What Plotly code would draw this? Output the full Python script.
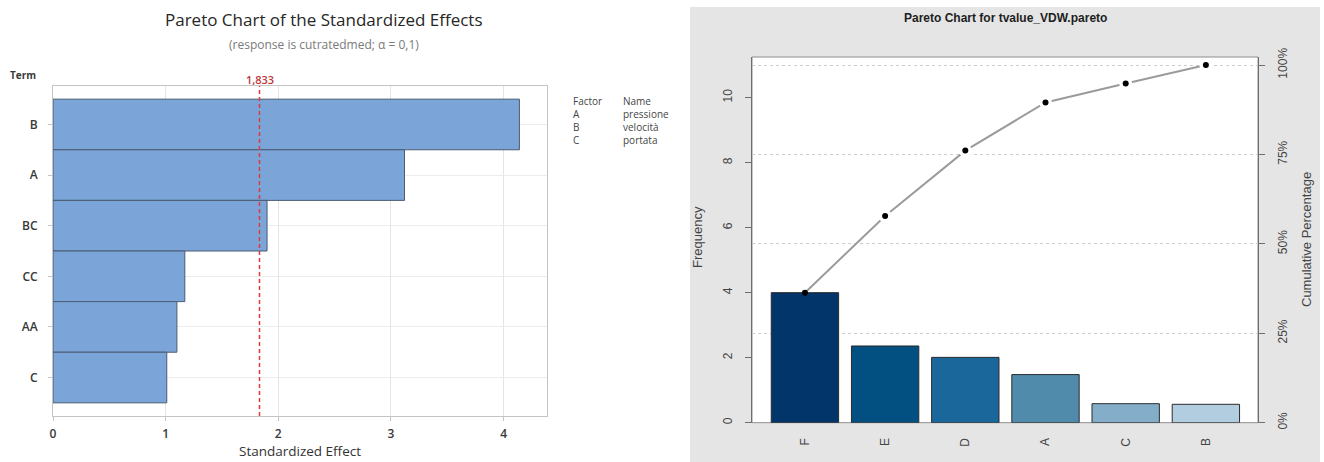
import numpy as np
import plotly.graph_objects as go

# ---- Minitab-style Pareto of standardized effects ----
terms = ["B", "A", "BC", "CC", "AA", "C"]
std_effects = [4.14, 3.12, 1.90, 1.17, 1.10, 1.01]
ref_value = 1.833
factor_codes = ["A", "B", "C"]
factor_names = ["pressione", "velocità", "portata"]

# ---- qcc-style Pareto chart of t-values ----
pareto_cats = ["F", "E", "D", "A", "C", "B"]
pareto_freq = [4.00, 2.36, 2.01, 1.48, 0.585, 0.566]
pareto_colors = ["#02356a", "#024f82", "#1a679b", "#508bac", "#84adca", "#b3cde0"]
freq_ticks = [0, 2, 4, 6, 8, 10]
pct_ticks = [0, 25, 50, 75, 100]

W, H = 1324, 462


def px(x):
    return x / W


def py(y):
    return 1 - y / H


total = float(np.sum(pareto_freq))
cum_pct = np.cumsum(pareto_freq) / total * 100
freq_top = 11.25
pct_top = freq_top / total * 100

fig = go.Figure()

# left chart: horizontal bars
fig.add_trace(go.Bar(
    x=std_effects, y=terms, orientation="h", width=1.0,
    marker=dict(color="#7ba5d8", line=dict(color="#4a5b72", width=1)),
    xaxis="x", yaxis="y", showlegend=False,
))

# right chart: frequency bars
fig.add_trace(go.Bar(
    x=pareto_cats, y=pareto_freq, width=0.84,
    marker=dict(color=pareto_colors, line=dict(color="#2b2b2b", width=1)),
    xaxis="x2", yaxis="y2", showlegend=False,
))

# cumulative percentage curve (white halo around points leaves the gaps of type="b")
halo = ["rgba(0,0,0,0)"] + ["#ffffff"] * (len(pareto_cats) - 1)
fig.add_trace(go.Scatter(
    x=pareto_cats, y=cum_pct, mode="lines+markers",
    line=dict(color="#9b9b9b", width=2),
    marker=dict(color=halo, size=13, line=dict(width=0)),
    xaxis="x2", yaxis="y3", showlegend=False,
))
fig.add_trace(go.Scatter(
    x=pareto_cats, y=cum_pct, mode="markers",
    marker=dict(color="#000000", size=6),
    xaxis="x2", yaxis="y3", showlegend=False,
))

left_font = "Open Sans"
right_font = "Liberation Sans"
left_tick_font = dict(family=left_font, size=12, color="#383838", weight=600)
right_tick_font = dict(family=right_font, size=12, color="#444444")

fig.update_layout(
    width=W, height=H,
    margin=dict(l=0, r=0, t=0, b=0, autoexpand=False),
    paper_bgcolor="#ffffff",
    plot_bgcolor="rgba(0,0,0,0)",
    xaxis=dict(
        domain=[px(53), px(547)], anchor="y",
        range=[0, 4.385], tickvals=[0, 1, 2, 3, 4],
        showgrid=True, gridcolor="#e4e4e4", gridwidth=1,
        zeroline=False,
        showline=True, mirror=True, linecolor="#c4c4c4", linewidth=1,
        ticks="outside", ticklen=4, tickcolor="#c4c4c4",
        ticklabelstandoff=3,
        tickfont=left_tick_font,
    ),
    yaxis=dict(
        domain=[py(416), py(86)], anchor="x",
        type="category", range=[5.76, -0.76],
        showgrid=True, gridcolor="#ececec", gridwidth=1,
        zeroline=False,
        showline=True, mirror=True, linecolor="#c4c4c4", linewidth=1,
        ticks="outside", ticklen=4, tickcolor="#c4c4c4",
        ticklabelstandoff=8,
        tickfont=left_tick_font,
    ),
    xaxis2=dict(
        domain=[px(752), px(1258)], anchor="y2",
        type="category", range=[-0.66, 5.65],
        showgrid=False, zeroline=False, showline=False,
        ticks="", tickangle=-90, ticklabelstandoff=12,
        tickfont=right_tick_font,
    ),
    yaxis2=dict(
        domain=[py(422.7), py(57)], anchor="x2",
        range=[0, freq_top], tickvals=freq_ticks,
        showgrid=False, zeroline=False,
        showline=True, linecolor="#6e6e6e", linewidth=1,
        ticks="outside", ticklen=6, tickcolor="#6e6e6e",
        tickangle=-90, ticklabelstandoff=8,
        tickfont=right_tick_font,
    ),
    yaxis3=dict(
        overlaying="y2", anchor="x2", side="right",
        range=[0, pct_top], tickmode="array", tickvals=pct_ticks,
        ticktext=[f"{v}%" for v in pct_ticks],
        showgrid=True, gridcolor="#cdcdcd", griddash="dot", gridwidth=1,
        zeroline=False,
        showline=True, linecolor="#6e6e6e", linewidth=1,
        ticks="outside", ticklen=6, tickcolor="#6e6e6e",
        tickangle=-90, ticklabelstandoff=8,
        tickfont=right_tick_font,
    ),
    shapes=[
        # gray device background of the right chart
        dict(type="rect", xref="paper", yref="paper",
             x0=px(690), x1=px(1320), y0=0, y1=py(7),
             fillcolor="#e5e5e5", line=dict(width=0), layer="below"),
        # white plotting region with box
        dict(type="rect", xref="paper", yref="paper",
             x0=px(752), x1=px(1258), y0=py(422.7), y1=py(57),
             fillcolor="#ffffff", line=dict(color="#8e8e8e", width=1),
             layer="below"),
        # reference line
        dict(type="line", xref="x", yref="y domain",
             x0=ref_value, x1=ref_value, y0=0, y1=1,
             line=dict(color="#e0393c", width=1.5, dash="4px,3px")),
    ],
)

# factor legend block, one column of codes and one of names
legend_codes = "<br>".join(["Factor"] + factor_codes)
legend_names = "<br>".join(["Name"] + factor_names)

annotations = [
    dict(text="Pareto Chart of the Standardized Effects",
         x=px(324), y=py(20),
         font=dict(family=left_font, size=17, color="#262626")),
    dict(text="(response is cutratedmed; α = 0,1)",
         x=px(324), y=py(45), font=dict(family=left_font, size=12, color="#7a7a7a")),
    dict(text="Term", x=px(23), y=py(75),
         font=dict(family=left_font, size=10, color="#3a3a3a", weight=700)),
    dict(text=f"{ref_value:.3f}".replace(".", ","), x=ref_value, xref="x", y=py(79),
         font=dict(family=left_font, size=11, color="#c0353a", weight=600)),
    dict(text="Standardized Effect", x=px(300), y=py(451),
         font=dict(family=left_font, size=13.5, color="#333333")),
    dict(text="<b>Pareto Chart for tvalue_VDW.pareto</b>", x=px(1005), y=py(18),
         font=dict(family=right_font, size=12, color="#1e1e1e")),
    dict(text="Frequency", x=px(697), y=py(237), textangle=-90,
         font=dict(family=right_font, size=13, color="#444444")),
    dict(text="Cumulative Percentage", x=px(1307), y=py(240), textangle=-90,
         font=dict(family=right_font, size=13, color="#444444")),
    dict(text=legend_codes, x=px(571), y=py(92), xanchor="left", yanchor="top",
         align="left", font=dict(family=left_font, size=10, color="#454545")),
    dict(text=legend_names, x=px(621), y=py(92), xanchor="left", yanchor="top",
         align="left", font=dict(family=left_font, size=10, color="#454545")),
]

for a in annotations:
    a.setdefault("xref", "paper")
    a.setdefault("yref", "paper")
    a.setdefault("xanchor", "center")
    a.setdefault("yanchor", "middle")
    a["showarrow"] = False

fig.update_layout(annotations=annotations)

fig.write_html("out.html")
